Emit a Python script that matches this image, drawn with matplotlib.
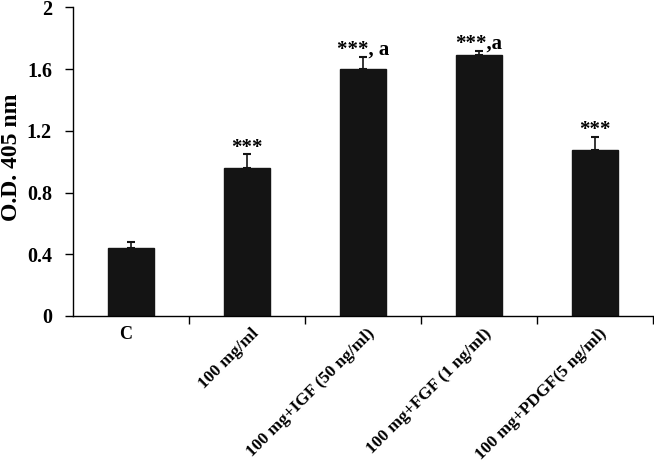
import numpy as np
import matplotlib.pyplot as plt
import matplotlib.transforms as mtransforms

# data
groups = ["C", "100 mg/ml", "100 mg+IGF (50 ng/ml)", "100 mg+FGF (1 ng/ml)",
          "100 mg+PDGF(5 ng/ml)"]
od_mean = [0.439, 0.957, 1.598, 1.691, 1.075]
od_err = [0.043, 0.09, 0.082, 0.028, 0.087]
marks = ["", "***", "***, a", "***,a", "***"]

plt.rcParams['font.family'] = ['Liberation Serif', 'DejaVu Serif']

fig = plt.figure(figsize=(6.54, 4.63), dpi=100)
ax = fig.add_axes([0.1112, 0.3175, 0.8873, 0.6667])

x = np.arange(len(groups))
ax.bar(x, od_mean, width=0.4, color="#141414", edgecolor="#141414", zorder=2)
ax.errorbar(x, od_mean, yerr=[np.zeros(len(od_err)), od_err], fmt="none",
            ecolor="#141414", elinewidth=1.2, capsize=3, capthick=1.5, zorder=3)

for xi, m, e, lab in zip(x, od_mean, od_err, marks):
    if lab:
        ax.text(xi, m + e + 0.012, lab, ha="center", va="baseline",
                fontsize=15, fontweight="bold")

ax.set_xlim(-0.5, 4.5)
ax.set_ylim(0, 2)
ax.set_yticks([0, 0.4, 0.8, 1.2, 1.6, 2])
ax.set_yticklabels(["0", "0.4", "0.8", "1.2", "1.6", "2"], fontsize=14.5, fontweight="bold")
ax.tick_params(axis="y", direction="out", length=6, width=1, pad=9)

# boundary ticks, labels on centres
ax.set_xticks(x + 0.5)
ax.set_xticklabels([])
ax.tick_params(axis="x", which="major", direction="out", length=6, width=1)
ax.set_xticks(x, minor=True)
ax.set_xticklabels(groups, minor=True, fontsize=12.5, fontweight="bold",
                   rotation=45, ha="right", va="top", rotation_mode="anchor")
ax.tick_params(axis="x", which="minor", length=0, pad=7)
labels = ax.get_xticklabels(minor=True)
labels[0].set_rotation(0)
labels[0].set_ha("center")
labels[0].set_fontsize(13)
for i, t in enumerate(labels):
    dx = -4 / 72 if i == 0 else 3 / 72
    t.set_transform(t.get_transform() + mtransforms.ScaledTranslation(dx, 0, fig.dpi_scale_trans))

ax.set_ylabel("O.D. 405 nm", fontsize=17, fontweight="bold", va="baseline")
ax.yaxis.set_label_coords(-0.096, 0.515)

for s in ["top", "right"]:
    ax.spines[s].set_visible(False)
for s in ["left", "bottom"]:
    ax.spines[s].set_linewidth(1)

plt.savefig("out.png", dpi=100)
